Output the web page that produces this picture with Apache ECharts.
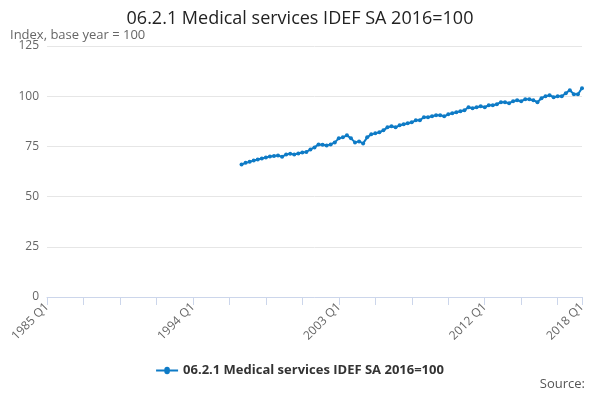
<!DOCTYPE html>
<html><head><meta charset="utf-8">
<script src="https://cdn.jsdelivr.net/npm/echarts@6/dist/echarts.min.js"></script>
<style>body{margin:0}#main{width:600px;height:400px}</style>
</head><body><div id="main"></div>
<script>
var seriesName = '06.2.1 Medical services IDEF SA 2016=100';
// quarters 1985 Q1 .. 2018 Q1
var quarters = [];
for (var y = 1985; y <= 2018; y++) {
  for (var q = 1; q <= 4; q++) {
    if (y == 2018 && q > 1) break;
    quarters.push(y + ' Q' + q);
  }
}
// values from 1997 Q1 to 2018 Q1
var values = [
  66, 66.8, 67.3, 68,
  68.5, 69, 69.5, 70,
  70.2, 70.5, 69.8, 71,
  71.3, 71, 71.5, 72,
  72.2, 73.5, 74.5, 76,
  75.8, 75.5, 76, 77,
  79, 79.5, 80.5, 79,
  77, 77.5, 76.5, 79.5,
  81, 81.5, 82, 83,
  84.5, 85, 84.5, 85.5,
  86, 86.5, 87, 88,
  88, 89.5, 89.5, 90,
  90.5, 90.5, 90, 91,
  91.5, 92, 92.5, 93,
  94.5, 94, 94.5, 95,
  94.5, 95.5, 95.5, 96,
  97, 97, 96.5, 97.5,
  98, 97.5, 98.5, 98.5,
  98, 97, 99, 100,
  100.5, 99.5, 100, 100,
  101.5, 103, 101, 101,
  104
];
var startIndex = quarters.indexOf('1997 Q1');
var data = quarters.map(function (c, i) {
  return i < startIndex ? null : values[i - startIndex];
});
var last = quarters.length - 1;

var myChart = echarts.init(document.getElementById('main'));
var option = {
  textStyle: { fontFamily: 'Open Sans' },
  title: [{
    text: seriesName, left: 'center', top: 5,
    textStyle: { fontSize: 18, fontWeight: 'normal', color: '#222' }
  }, {
    text: 'Index, base year = 100', left: 5, top: 24,
    textStyle: { fontSize: 13, fontWeight: 'normal', color: '#666' }
  }, {
    text: 'Source:', right: 10, bottom: 4,
    textStyle: { fontSize: 13, fontWeight: 'normal', color: '#555' }
  }],
  legend: {
    bottom: 18, left: 'center',
    data: [{ name: seriesName, icon: 'path://M0,4h9a3,3 0 1,1 6,0h9v2h-9a3,3 0 1,1 -6,0h-9z' }],
    itemWidth: 22, itemHeight: 8,
    textStyle: { fontSize: 13, fontWeight: 'bold', color: '#333' }
  },
  grid: { left: 47, right: 18, top: 46, bottom: 103 },
  xAxis: {
    type: 'category', data: quarters, boundaryGap: false,
    axisLine: { lineStyle: { color: '#ccd6eb' } },
    axisTick: { interval: function (i) { return i % 9 == 0 || i == last; }, lineStyle: { color: '#ccd6eb' }, length: 8 },
    axisLabel: {
      interval: function (i) { return i % 36 == 0 || i == last; },
      rotate: 45, color: '#666', fontSize: 12
    }
  },
  yAxis: {
    type: 'value', min: 0, max: 125, interval: 25,
    axisLabel: { color: '#666', fontSize: 12 },
    splitLine: { lineStyle: { color: '#e6e6e6' } }
  },
  series: [{
    name: seriesName, type: 'line', data: data,
    symbol: 'circle', symbolSize: 4, showAllSymbol: true,
    itemStyle: { color: '#0e7bc6' },
    lineStyle: { width: 2, color: '#0e7bc6' }
  }]
};
myChart.setOption(option);
</script></body></html>
